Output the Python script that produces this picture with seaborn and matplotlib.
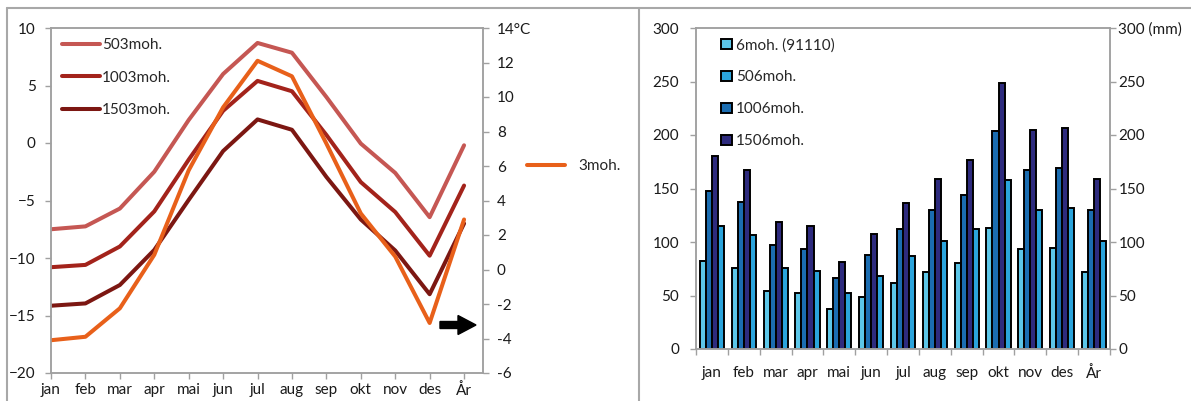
import numpy as np
import pandas as pd
import matplotlib
matplotlib.use("Agg")
import matplotlib.pyplot as plt
import seaborn as sns
from matplotlib.lines import Line2D
from matplotlib.patches import Patch, FancyArrow

# ---------------- data ----------------
months = ['jan', 'feb', 'mar', 'apr', 'mai', 'jun', 'jul', 'aug', 'sep', 'okt', 'nov', 'des', 'År']

# temperature (°C) - left axis
t503 = [-7.5, -7.25, -5.7, -2.5, 2.0, 6.0, 8.7, 7.85, 4.0, -0.05, -2.6, -6.45, -0.2]
t1003 = [-10.8, -10.6, -9.0, -5.95, -1.45, 2.8, 5.4, 4.5, 0.7, -3.4, -6.0, -9.8, -3.7]
t1503 = [-14.15, -13.95, -12.35, -9.3, -4.95, -0.7, 2.05, 1.15, -2.95, -6.65, -9.35, -13.15, -7.0]
# temperature (°C) - right axis
t3 = [-4.1, -3.9, -2.25, 0.85, 5.75, 9.4, 12.1, 11.2, 7.3, 3.25, 0.75, -3.1, 2.9]

temp_names = ['503moh.', '1003moh.', '1503moh.']
temp_name_3 = '3moh.'

# precipitation (mm)
p6 = [82, 76, 54, 52, 37.5, 49, 62, 72, 80, 113, 93, 94, 72]
p506 = [115, 107, 75.5, 73, 52, 68.5, 86.5, 101, 112, 158, 130, 131.5, 101]
p1006 = [148, 137, 97.5, 93.5, 66.5, 88, 112, 129.5, 144, 203.5, 167.5, 169, 129.5]
p1506 = [180.5, 167.5, 118.5, 114.5, 81.5, 107.5, 136, 158.5, 176.5, 249, 205, 207, 158.5]
prec_names = ['6moh. (91110)', '506moh.', '1006moh.', '1506moh.']
bar_order = ['6moh. (91110)', '1006moh.', '1506moh.', '506moh.']

# ---------------- style ----------------
sns.set_theme(style='ticks')
plt.rcParams['font.family'] = ['Lato', 'DejaVu Sans']
plt.rcParams['font.size'] = 11

W, H = 1191, 401
fig = plt.figure(figsize=(W / 100, H / 100), dpi=100)

spine_col = '#A0A0A0'
txt_col = '#1a1a1a'
line_cols = {'503moh.': '#C55753', '1003moh.': '#A3231B', '1503moh.': '#7C1712'}
orange = '#E8601A'
bar_cols = {'6moh. (91110)': '#5CC6E8', '506moh.': '#2BA4DC',
            '1006moh.': '#1B6DB1', '1506moh.': '#2E2B7E'}


def fx(px):
    return px / W


def fy(py):
    return 1 - py / H


# ---------------- panel frames ----------------
for (x0, y0, x1, y1) in [(7, 8, W, 8), (7, 8, 7, H), (639, 8, 639, H)]:
    fig.add_artist(Line2D([fx(x0), fx(x1)], [fy(y0), fy(y1)], color='#A8A8A8', lw=1.5,
                          transform=fig.transFigure))

# ---------------- left chart (temperature) ----------------
ax1 = fig.add_axes([fx(51), fy(373), fx(483) - fx(51), fy(28) - fy(373)])
pos = np.arange(len(months))
df_t = pd.DataFrame({
    'pos': np.tile(pos, 3),
    'temp': t503 + t1003 + t1503,
    'series': np.repeat(temp_names, len(months)),
})
sns.lineplot(data=df_t, x='pos', y='temp', hue='series', hue_order=temp_names,
             palette=line_cols, lw=2.9, ax=ax1, legend=False, sort=False)
ax1.set_xlim(0, 12.55)
ax1.set_ylim(-20, 10)
ax1.set_yticks(np.arange(-20, 11, 5))
ax1.set_xticks(pos)
ax1.set_xticklabels(months)
ax1.set_xlabel('')
ax1.set_ylabel('')
ax1.tick_params(axis='y', length=4, width=1, color=spine_col, pad=7, labelsize=11, labelcolor=txt_col)
ax1.tick_params(axis='x', length=4, width=1, color=spine_col, pad=3, labelsize=11, labelcolor=txt_col)

ax1r = ax1.twinx()
sns.lineplot(x=pos, y=t3, color=orange, lw=2.9, ax=ax1r, sort=False)
ax1r.set_ylim(-6, 14)
rt = np.arange(-6, 15, 2)
ax1r.set_yticks(rt)
ax1r.set_yticklabels([str(v) for v in rt[:-1]] + ['14°C'])
ax1r.tick_params(axis='y', length=4, width=1, color=spine_col, pad=6, labelsize=11, labelcolor=txt_col)
ax1r.set_ylabel('')

for a in (ax1, ax1r):
    for s in a.spines.values():
        s.set_visible(True)
        s.set_color(spine_col)
        s.set_linewidth(1.1)

leg1 = ax1.legend([Line2D([], [], color=line_cols[n], lw=2.9) for n in temp_names], temp_names,
                  loc='upper left', bbox_to_anchor=(fx(62), fy(38)), bbox_transform=fig.transFigure,
                  frameon=False, borderpad=0, borderaxespad=0, handlelength=2.5, handletextpad=0.1,
                  labelspacing=1.22, fontsize=11)
ax1r.legend([Line2D([], [], color=orange, lw=2.9)], [temp_name_3],
            loc='center left', bbox_to_anchor=(fx(527), fy(166)), bbox_transform=fig.transFigure,
            frameon=False, borderpad=0, borderaxespad=0, handlelength=2.5, handletextpad=0.85,
            fontsize=11)

# arrow pointing to the right axis
fig.add_artist(FancyArrow(fx(440), fy(325), fx(476) - fx(440), 0, width=7 / H, head_width=19 / H,
                          head_length=18 / W, length_includes_head=True, color='black',
                          transform=fig.transFigure))

# ---------------- right chart (precipitation) ----------------
ax2 = fig.add_axes([fx(696), fy(349), fx(1110) - fx(696), fy(28) - fy(349)])
df_p = pd.DataFrame({
    'month': np.tile(months, 4),
    'prec': p6 + p506 + p1006 + p1506,
    'series': np.repeat(prec_names, len(months)),
})
sns.barplot(data=df_p, x='month', y='prec', hue='series', order=months, hue_order=bar_order,
            palette=bar_cols, width=0.76, edgecolor='black', linewidth=1.4, ax=ax2,
            legend=False, errorbar=None, saturation=1)
ax2.set_xlim(-0.5, 12.5)
ax2.set_ylim(0, 300)
ax2.set_yticks(np.arange(0, 301, 50))
ax2.set_xticks(np.arange(-0.5, 13, 1))
ax2.set_xticklabels([])
ax2.set_xticks(np.arange(len(months)), labels=months, minor=True)
ax2.tick_params(axis='x', which='major', length=4, width=1, color=spine_col)
ax2.tick_params(axis='x', which='minor', length=0, pad=12, labelsize=11, labelcolor=txt_col)
ax2.tick_params(axis='y', length=4, width=1, color=spine_col, pad=8, labelsize=11, labelcolor=txt_col)
ax2.set_xlabel('')
ax2.set_ylabel('')

ax2r = ax2.twinx()
ax2r.set_ylim(0, 300)
pt = np.arange(0, 301, 50)
ax2r.set_yticks(pt)
ax2r.set_yticklabels([str(v) for v in pt[:-1]] + ['300 (mm)'])
ax2r.tick_params(axis='y', length=4, width=1, color=spine_col, pad=2, labelsize=11, labelcolor=txt_col)

for a in (ax2, ax2r):
    for s in a.spines.values():
        s.set_visible(True)
        s.set_color(spine_col)
        s.set_linewidth(1.1)

ax2r.legend([Patch(facecolor=bar_cols[n], edgecolor='black', lw=1.4) for n in prec_names], prec_names,
            loc='upper left', bbox_to_anchor=(fx(721), fy(38)), bbox_transform=fig.transFigure,
            frameon=False, borderpad=0, borderaxespad=0, handlelength=0.7, handleheight=0.7,
            handletextpad=0.3, labelspacing=1.18, fontsize=11)

fig.savefig('out.png', dpi=100)
